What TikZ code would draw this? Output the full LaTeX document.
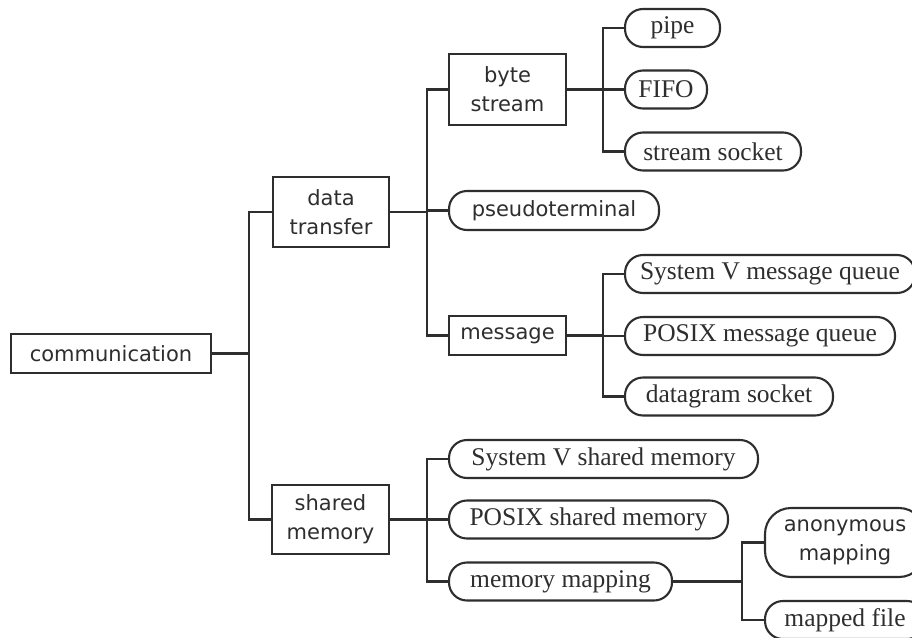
\documentclass[tikz,border=0pt]{standalone}
\usepackage{fontspec}
\setsansfont{DejaVu Sans}
\setmainfont{Liberation Serif}
\definecolor{ink}{HTML}{2E2E2E}
\begin{document}
\begin{tikzpicture}[x=1pt,y=-1pt,
  box/.style={draw=ink, line width=2.1pt, inner sep=0pt, rectangle, text=ink,
    font=\sffamily\fontsize{21}{29}\selectfont, align=center},
  pill/.style={draw=ink, line width=2.1pt, inner sep=0pt, rectangle, rounded corners=18pt,
    text=ink, minimum height=38pt, font=\rmfamily\fontsize{25.5}{28}\selectfont},
  spill/.style={pill, font=\sffamily\fontsize{21}{29}\selectfont, align=center},
  link/.style={draw=ink, line width=2.3pt}]
\clip (0,0) rectangle (912,637);
\fill[white] (0,0) rectangle (912,637);
% boxes
\node[box, minimum width=200pt, minimum height=39pt] (comm) at (111,353.5) {communication};
\node[box, minimum width=116pt, minimum height=70pt] (dt) at (331,212) {data\\transfer};
\node[box, minimum width=117pt, minimum height=69pt] (sm) at (330.5,519.5) {shared\\memory};
\node[box, minimum width=117pt, minimum height=71pt] (bs) at (507.5,89.5) {byte\\stream};
\node[box, minimum width=117pt, minimum height=39pt] (msg) at (507.5,335.5) {message};
% pills
\node[spill, minimum width=210pt, minimum height=39pt] (pt) at (554,210.5) {pseudoterminal};
\node[pill, minimum width=95pt] (pipe) at (672.5,28) {pipe};
\node[pill, minimum width=82pt] (fifo) at (666,89.5) {FIFO};
\node[pill, minimum width=176pt] (ss) at (713,151.5) {stream socket};
\node[pill, minimum width=290pt] (svmq) at (770,274) {System V message queue};
\node[pill, minimum width=270pt] (pmq) at (760,336) {POSIX message queue};
\node[pill, minimum width=208pt] (ds) at (729,396.5) {datagram socket};
\node[pill, minimum width=309pt] (svsm) at (603.5,459) {System V shared memory};
\node[pill, minimum width=279pt] (psm) at (588.5,519.5) {POSIX shared memory};
\node[pill, minimum width=223pt] (mm) at (560.5,581.5) {memory mapping};
\node[spill, minimum width=160pt, minimum height=69pt, rounded corners=26pt] (am) at (845,542.5) {anonymous\\mapping};
\node[pill, minimum width=160pt] (mf) at (845,620) {mapped file};
% junctions
\coordinate (j0) at (249,353.5);
\coordinate (j1) at (427,212);
\coordinate (j2) at (603,89.5);
\coordinate (j3) at (603,335.5);
\coordinate (j4) at (427,519.5);
\coordinate (j5) at (742,581.5);
% connectors
\draw[link] (comm.east) -- (j0);
\draw[link] (j0) |- (dt.west);
\draw[link] (j0) |- (sm.west);
\draw[link] (dt.east) -- (j1);
\draw[link] (j1) |- (bs.west);
\draw[link] (j1) |- (pt.west);
\draw[link] (j1) |- (msg.west);
\draw[link] (bs.east) -- (j2);
\draw[link] (j2) |- (pipe.west);
\draw[link] (j2) |- (fifo.west);
\draw[link] (j2) |- (ss.west);
\draw[link] (msg.east) -- (j3);
\draw[link] (j3) |- (svmq.west);
\draw[link] (j3) |- (pmq.west);
\draw[link] (j3) |- (ds.west);
\draw[link] (sm.east) -- (j4);
\draw[link] (j4) |- (svsm.west);
\draw[link] (j4) |- (psm.west);
\draw[link] (j4) |- (mm.west);
\draw[link] (mm.east) -- (j5);
\draw[link] (j5) |- (am.west);
\draw[link] (j5) |- (mf.west);
\end{tikzpicture}
\end{document}
